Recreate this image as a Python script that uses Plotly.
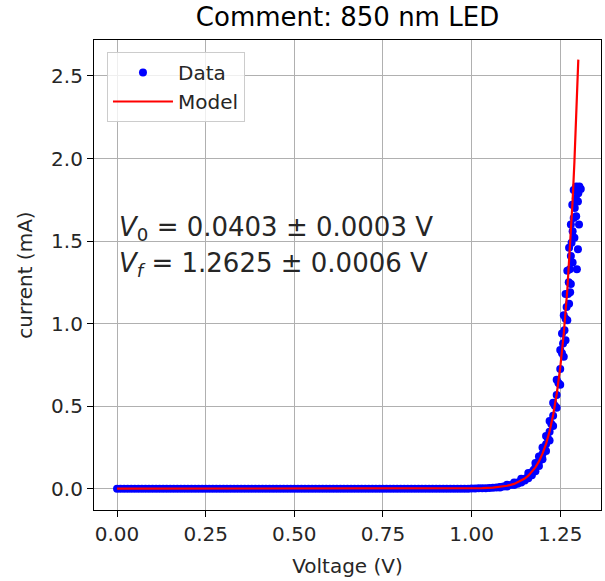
import plotly.graph_objects as go

# Measured data (voltage in V, current in mA)
data_v = [0.00, 0.01, 0.02, 0.03, 0.04, 0.05, 0.06, 0.07, 0.08, 0.09,
          0.10, 0.11, 0.12, 0.13, 0.14, 0.15, 0.16, 0.17, 0.18, 0.19,
          0.20, 0.21, 0.22, 0.23, 0.24, 0.25, 0.26, 0.27, 0.28, 0.29,
          0.30, 0.31, 0.32, 0.33, 0.34, 0.35, 0.36, 0.37, 0.38, 0.39,
          0.40, 0.41, 0.42, 0.43, 0.44, 0.45, 0.46, 0.47, 0.48, 0.49,
          0.50, 0.51, 0.52, 0.53, 0.54, 0.55, 0.56, 0.57, 0.58, 0.59,
          0.60, 0.61, 0.62, 0.63, 0.64, 0.65, 0.66, 0.67, 0.68, 0.69,
          0.70, 0.71, 0.72, 0.73, 0.74, 0.75, 0.76, 0.77, 0.78, 0.79,
          0.80, 0.81, 0.82, 0.83, 0.84, 0.85, 0.86, 0.87, 0.88, 0.89,
          0.90, 0.91, 0.92, 0.93, 0.94, 0.95, 0.96, 0.97, 0.98, 0.99,
          1.00, 1.01, 1.02, 1.03, 1.04,
          1.05, 1.06, 1.07, 1.08, 1.09, 1.10, 1.11, 1.12, 1.13, 1.14,
          1.15, 1.16, 1.165, 1.17, 1.175, 1.18, 1.185, 1.19, 1.195, 1.20,
          1.205, 1.21, 1.215, 1.22, 1.225, 1.23, 1.235, 1.24, 1.245, 1.25,
          1.255, 1.258, 1.262, 1.265, 1.268, 1.272, 1.278, 1.274, 1.277, 1.280,
          1.282, 1.285, 1.288, 1.291, 1.294, 1.297, 1.300, 1.304, 1.308, 1.295,
          1.301,
          1.08, 1.10, 1.12, 1.13, 1.14, 1.15, 1.16, 1.17, 1.18, 1.19,
          1.20, 1.21, 1.22, 1.23, 1.24, 1.25, 1.26, 1.265, 1.27, 1.275,
          1.28, 1.285, 1.29, 1.295, 1.30, 1.303, 1.300, 1.297,
          1.10, 1.12, 1.14, 1.16, 1.18, 1.19, 1.20, 1.21, 1.22, 1.23,
          1.24, 1.25, 1.255, 1.26, 1.265, 1.27, 1.275, 1.28, 1.284, 1.288]
data_i = [0.0, 0.0, 0.0, 0.0, 0.0, 0.0, 0.0, 0.0, 0.0, 0.0,
          0.0, 0.0, 0.0, 0.0, 0.0, 0.0, 0.0, 0.0, 0.0, 0.0,
          0.0, 0.0, 0.0, 0.0, 0.0, 0.0, 0.0, 0.0, 0.0, 0.0,
          0.0, 0.0, 0.0, 0.0, 0.0, 0.0, 0.0, 0.0, 0.0, 0.0,
          0.0, 0.0, 0.0, 0.0, 0.0, 0.0, 0.0, 0.0, 0.0, 0.0,
          0.0, 0.0, 0.0, 0.0, 0.0, 0.0, 0.0, 0.0, 0.0, 0.0,
          0.0, 0.0, 0.0, 0.0, 0.0, 0.0, 0.0, 0.0, 0.0, 0.0,
          0.0, 0.0, 0.0, 0.0, 0.0, 0.0, 0.0, 0.0, 0.0, 0.0,
          0.0, 0.0, 0.0, 0.0, 0.0, 0.0, 0.0, 0.0, 0.0, 0.0,
          0.0, 0.0, 0.0, 0.0, 0.0, 0.0, 0.0, 0.0, 0.0, 0.0,
          0.001, 0.001, 0.002, 0.002, 0.003,
          0.004, 0.006, 0.008, 0.011, 0.014, 0.018, 0.023, 0.030, 0.038, 0.048,
          0.060, 0.077, 0.088, 0.099, 0.113, 0.128, 0.146, 0.165, 0.187, 0.210,
          0.240, 0.270, 0.305, 0.345, 0.392, 0.442, 0.502, 0.568, 0.640, 0.725,
          0.820, 0.880, 0.960, 1.030, 1.100, 1.180, 1.190, 1.250, 1.330, 1.410,
          1.490, 1.560, 1.640, 1.700, 1.760, 1.800, 1.825, 1.830, 1.815, 1.830,
          1.790,
          0.008, 0.013, 0.022, 0.030, 0.038, 0.050, 0.064, 0.082, 0.106, 0.137,
          0.178, 0.228, 0.292, 0.380, 0.490, 0.630, 0.800, 0.900, 1.020, 1.120,
          1.240, 1.370, 1.520, 1.650, 1.740, 1.600, 1.450, 1.330,
          0.024, 0.038, 0.060, 0.095, 0.155, 0.195, 0.250, 0.320, 0.410, 0.520,
          0.660, 0.840, 0.940, 1.050, 1.180, 1.320, 1.460, 1.600, 1.720, 1.810]

# Fitted model curve
model_v = [0.00, 0.20, 0.40, 0.60, 0.80, 0.90, 0.95, 1.00, 1.03, 1.06,
           1.08, 1.10, 1.12, 1.14, 1.15, 1.16, 1.17, 1.18, 1.19, 1.20,
           1.21, 1.22, 1.23, 1.24, 1.25, 1.26, 1.27, 1.28, 1.285, 1.29,
           1.295, 1.30, 1.301]
model_i = [0.0, 0.0, 0.0, 0.0, 0.00001, 0.0001, 0.0004, 0.0015, 0.0031, 0.0066,
           0.0108, 0.0177, 0.0291, 0.0478, 0.0613, 0.0786, 0.1007, 0.1291, 0.1654, 0.2121,
           0.2718, 0.3483, 0.4464, 0.5722, 0.7334, 0.940, 1.205, 1.544, 1.748, 1.979,
           2.240, 2.536, 2.599]

x_ticks = [0.00, 0.25, 0.50, 0.75, 1.00, 1.25]
x_tick_labels = ["0.00", "0.25", "0.50", "0.75", "1.00", "1.25"]
y_ticks = [0.0, 0.5, 1.0, 1.5, 2.0, 2.5]
y_tick_labels = ["0.0", "0.5", "1.0", "1.5", "2.0", "2.5"]

title_text = "Comment: 850 nm LED"
fit_lines = ["<i>V</i><sub>0</sub> = 0.0403 ± 0.0003 V",
             "<i>V</i><sub><i>f</i></sub> = 1.2625 ± 0.0006 V"]
fit_y = [1.579, 1.361]

FONT = "DejaVu Sans"
TXT = "#262626"

W, H = 605, 581

fig = go.Figure()
fig.add_trace(go.Scatter(x=data_v, y=data_i, mode="markers", name="Data",
                         marker=dict(color="#0000ff", size=8, line=dict(width=0))))
fig.add_trace(go.Scatter(x=model_v, y=model_i, mode="lines", name="Model",
                         line=dict(color="#ff0000", width=2.2)))

for txt, yy in zip(fit_lines, fit_y):
    fig.add_annotation(x=0.0, y=yy, xref="x", yref="y", text=txt, showarrow=False,
                       xanchor="left", yanchor="middle",
                       font=dict(family=FONT, size=26, color=TXT))

axis_common = dict(showgrid=True, gridcolor="#b0b0b0", gridwidth=1,
                   zeroline=False, showline=True, linecolor="#000000", linewidth=1.2,
                   mirror=True, ticks="outside", ticklen=6, tickwidth=1.2,
                   tickcolor="#000000", automargin=True,
                   tickfont=dict(family=FONT, size=20, color=TXT))

fig.update_layout(
    width=W, height=H,
    margin=dict(l=94, r=4, t=40, b=71),
    paper_bgcolor="white", plot_bgcolor="white",
    title=dict(text=title_text, x=0.5, xref="paper", y=1 - 17 / H,
               yanchor="middle", font=dict(family=FONT, size=26, color="#000000")),
    xaxis=dict(range=[-0.065, 1.365], tickvals=x_ticks, ticktext=x_tick_labels,
               title=dict(text="Voltage (V)", standoff=13,
                          font=dict(family=FONT, size=20, color=TXT)),
               **axis_common),
    yaxis=dict(range=[-0.129, 2.718], tickvals=y_ticks, ticktext=y_tick_labels,
               title=dict(text="current (mA)", standoff=13,
                          font=dict(family=FONT, size=20, color=TXT)),
               **axis_common),
    legend=dict(x=0.0256, y=0.9745, xanchor="left", yanchor="top",
                bgcolor="rgba(255,255,255,0.8)", bordercolor="#cccccc", borderwidth=1,
                itemwidth=60,
                font=dict(family=FONT, size=20, color=TXT)),
    showlegend=True,
)

fig.write_html("out.html", config={"displayModeBar": False},
               post_script="document.body.style.margin='0px';document.body.style.overflow='hidden';")
